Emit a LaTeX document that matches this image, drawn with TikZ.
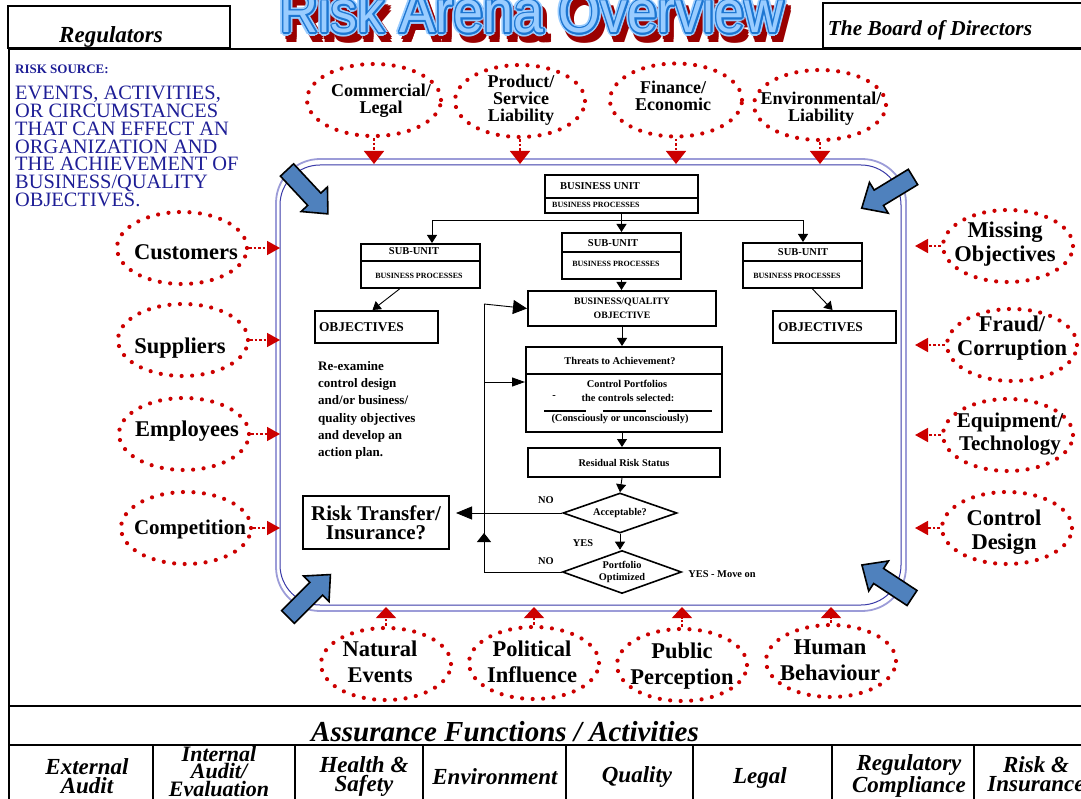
\documentclass[tikz,border=0pt]{standalone}
\usepackage{fontspec}
\usepackage{graphicx}
\setmainfont{Liberation Serif}
\newfontfamily\titlefont{Liberation Sans}
\usetikzlibrary{shapes.geometric,arrows.meta,positioning,calc}

\definecolor{riskred}{HTML}{CC0000}
\definecolor{srcnavy}{HTML}{1E1E96}
\definecolor{framenavy}{HTML}{3A3AA8}
\definecolor{framelav}{HTML}{9C9CD8}
\definecolor{bigarrow}{HTML}{4F81BD}
\definecolor{ttllight}{HTML}{99CCFF}
\definecolor{ttlblue}{HTML}{1C76D2}
\definecolor{ttlshadow}{HTML}{9A0000}

\newcommand{\fsz}[2]{\fontsize{#1}{#2}\selectfont}
\newcommand{\ttltext}{\titlefont\fsz{60}{60}\scalebox{0.9}[1]{Risk Arena Overview}}

\tikzset{
  ttl/.style={anchor=base, inner sep=0pt},
  hdrbox/.style={draw, line width=2pt, inner sep=0pt},
  hdrtext/.style={anchor=base, inner sep=0pt, font=\bfseries\itshape\fsz{23}{23}},
  srcdots/.style={ellipse, draw=riskred, line width=4.2pt, line cap=round,
    dash pattern=on 0pt off 10.5pt, inner sep=0pt,
    minimum width=130pt, minimum height=72pt},
  srcname/.style={align=center, inner sep=0pt, font=\bfseries\fsz{22.5}{24}},
  topname/.style={srcname, font=\bfseries\fsz{18}{17}},
  botname/.style={srcname, font=\bfseries\fsz{22.5}{26}},
  feed/.style={riskred, line width=1.6pt, dash pattern=on 2.5pt off 2pt},
  feeddown/.style={feed, -{Triangle[length=13pt,width=20pt]}},
  feedup/.style={feed, -{Triangle[length=11pt,width=20pt]}},
  feedside/.style={feed, -{Triangle[length=13pt,width=14pt]}},
  box/.style={draw, line width=2pt, inner sep=0pt},
  decision/.style={diamond, draw, line width=1.6pt, inner sep=0pt, shape aspect=2.8,
    align=center, font=\bfseries\fsz{10.3}{12}},
  smalltxt/.style={inner sep=0pt, font=\bfseries\fsz{10.4}{12}},
  weetxt/.style={inner sep=0pt, font=\bfseries\fsz{8}{9}},
  unittxt/.style={inner sep=0pt, font=\bfseries\fsz{10.5}{11}},
  flow/.style={line width=0.9pt},
  flowto/.style={flow, -{Triangle[length=8pt,width=10pt]}},
  flowbig/.style={flow, -{Triangle[length=14pt,width=14pt]}},
  colname/.style={align=center, inner sep=0pt, font=\bfseries\itshape\fsz{23}{19}},
  pics/inarrow/.style={code={
    \draw[fill=bigarrow, line width=1.6pt, line join=miter]
      (0,-9) -- (40,-9) -- (40,-18) -- (60,0) -- (40,18) -- (40,9) -- (0,9) -- cycle;}}
}

\begin{document}
\begin{tikzpicture}[x=1pt,y=-1pt]
\useasboundingbox (0,0) rectangle (1081,799);
\clip (0,0) rectangle (1081,799);

% title: shadow, halo, outline, fill
\foreach \a [count=\i] in {0,45,...,315}
  \node[ttl, text=ttlshadow] (shd\i) at ({537+3*cos(\a)},{40+3*sin(\a)}) {\ttltext};
\foreach \a [count=\i] in {0,30,...,330}
  \node[ttl, text=ttllight] (hal\i) at ({532+3.4*cos(\a)},{33+3.4*sin(\a)}) {\ttltext};
\foreach \a [count=\i] in {0,30,...,330}
  \node[ttl, text=ttlblue] (rim\i) at ({532+1.8*cos(\a)},{33+1.8*sin(\a)}) {\ttltext};
\node[ttl, text=ttllight] (title) at (532,33) {\ttltext};

% header boxes and page rules
\node[hdrbox, minimum width=222pt, minimum height=42pt] (regbox) at (119,27) {};
\node[hdrtext] (regtxt) at (111,43) {Regulators};
\node[hdrbox, minimum width=270pt, minimum height=45pt] (bodbox) at (958,25.5) {};
\node[hdrtext, font=\bfseries\itshape\fsz{21.3}{21}] (bodtxt) at (930,36) {The Board of Directors};
\draw[line width=2.4pt] (8,49) -- (1081,49);
\draw[line width=2pt] (9,48) -- (9,799);
\draw[line width=2.6pt] (9,706) -- (1081,706);
\draw[line width=2pt] (9,745) -- (1081,745);
\foreach \cx in {153,295,423,566,693,832,974}
  \draw[line width=1.8pt] (\cx,745) -- (\cx,799);

% risk source note
\node[anchor=base west, inner sep=0pt, text=srcnavy, font=\bfseries\fsz{13}{13}] (rsrc) at (15,74) {RISK SOURCE:};
\node[anchor=north west, inner sep=0pt, align=left, text=srcnavy, font=\fsz{20.4}{17.8}] (rsdesc) at (15,86)
  {EVENTS, ACTIVITIES,\\OR CIRCUMSTANCES\\THAT CAN EFFECT AN\\ORGANIZATION AND\\THE ACHIEVEMENT OF\\BUSINESS/QUALITY\\OBJECTIVES.};

% arena frame
\draw[framelav, line width=1.8pt, rounded corners=44pt] (276,159) rectangle (906,611);
\draw[framenavy, line width=1pt, rounded corners=40pt] (280,165) rectangle (901,605);
\coordinate (fT) at (0,164);
\coordinate (fB) at (0,607);
\coordinate (fL) at (280,0);
\coordinate (fR) at (915,0);

\pic[rotate=-47] at (287,170) {inarrow};
\pic[rotate=-148.7] at (913,177) {inarrow};
\pic[rotate=45] at (288,617) {inarrow};
\pic[rotate=146.6] at (912,598) {inarrow};

% risk sources, top
\node[srcdots, minimum width=134pt, minimum height=72pt] (commercial) at (374,100) {};
\node[topname] (commercial-t) at (381,101) {Commercial/\\Legal};
\node[srcdots, minimum width=130pt, minimum height=72pt] (product) at (520,101) {};
\node[topname] (product-t) at (521,100) {Product/\\Service\\Liability};
\node[srcdots, minimum width=132pt, minimum height=73pt] (finance) at (676,100) {};
\node[topname] (finance-t) at (673,96) {Finance/\\Economic};
\node[srcdots, minimum width=132pt, minimum height=70pt] (environ) at (820,105) {};
\node[topname] (environ-t) at (821,109) {Environmental/\\Liability};
\foreach \s in {commercial,product,finance,environ}
  \draw[feeddown] (\s.south) -- (\s.south |- fT);

% risk sources, left
\node[srcdots] (customers) at (182,248) {};
\node[srcname] (customers-t) at (186,252) {Customers};
\node[srcdots] (suppliers) at (183,340) {};
\node[srcname] (suppliers-t) at (180,348) {Suppliers};
\node[srcdots] (employees) at (184,434) {};
\node[srcname] (employees-t) at (187,431) {Employees};
\node[srcdots] (competition) at (186,528) {};
\node[srcname, font=\bfseries\fsz{21}{22}] (competition-t) at (190,529) {Competition};
\foreach \s in {customers,suppliers,employees,competition}
  \draw[feedside] (\s.east) -- (\s.east -| fL);

% risk sources, right
\node[srcdots] (missing) at (1008,246) {};
\node[srcname] (missing-t) at (1005,244) {Missing\\Objectives};
\node[srcdots] (fraud) at (1012,345) {};
\node[srcname] (fraud-t) at (1012,338) {Fraud/\\Corruption};
\node[srcdots] (equip) at (1008,435) {};
\node[srcname, font=\bfseries\fsz{21}{22.5}] (equip-t) at (1010,434) {Equipment/\\Technology};
\node[srcdots] (ctrldesign) at (1007,528) {};
\node[srcname] (ctrldesign-t) at (1004,532) {Control\\Design};
\foreach \s in {missing,fraud,equip,ctrldesign}
  \draw[feedside] (\s.west) -- (\s.west -| fR);

% risk sources, bottom
\node[srcdots] (natural) at (386,664) {};
\node[botname] (natural-t) at (380,662) {Natural\\Events};
\node[srcdots] (political) at (534,663) {};
\node[botname] (political-t) at (532,662) {Political\\Influence};
\node[srcdots] (public) at (682,665) {};
\node[botname] (public-t) at (682,666) {Public\\Perception};
\node[srcdots] (human) at (831,661) {};
\node[botname] (human-t) at (830,660) {Human\\Behaviour};
\foreach \s in {natural,political,public,human}
  \draw[feedup] (\s.north) -- (\s.north |- fB);

% business unit and sub-units
\node[box, minimum width=153pt, minimum height=38pt] (bu) at (621.5,194) {};
\draw[line width=2pt] ($(bu.north west)!0.6!(bu.south west)$) -- ($(bu.north east)!0.6!(bu.south east)$);
\node[unittxt, anchor=west] (bu-a) at (560,186) {BUSINESS UNIT};
\node[weetxt, anchor=west] (bu-b) at (552,205) {BUSINESS PROCESSES};

\node[box, minimum width=119pt, minimum height=44pt] (lsub) at (420.5,266) {};
\draw[line width=2pt] ($(lsub.north west)!0.39!(lsub.south west)$) -- ($(lsub.north east)!0.39!(lsub.south east)$);
\node[unittxt] (lsub-a) at (414,251) {SUB-UNIT};
\node[weetxt] (lsub-b) at (419,276) {BUSINESS PROCESSES};

\node[box, minimum width=119pt, minimum height=46pt] (msub) at (621.5,256) {};
\draw[line width=2pt] ($(msub.north west)!0.41!(msub.south west)$) -- ($(msub.north east)!0.41!(msub.south east)$);
\node[unittxt] (msub-a) at (613,243) {SUB-UNIT};
\node[weetxt] (msub-b) at (616,264) {BUSINESS PROCESSES};

\node[box, minimum width=119pt, minimum height=45pt] (rsub) at (802.5,265.5) {};
\draw[line width=2pt] ($(rsub.north west)!0.4!(rsub.south west)$) -- ($(rsub.north east)!0.4!(rsub.south east)$);
\node[unittxt] (rsub-a) at (803,252) {SUB-UNIT};
\node[weetxt] (rsub-b) at (797,276) {BUSINESS PROCESSES};

\coordinate (br) at (621.5,220);
\draw[flow] (bu.south) -- (br);
\draw[flowto] (br) -| ([xshift=11.5]lsub.north);
\draw[flowto] (br) -| ([xshift=0.5]rsub.north);
\draw[flowto] (br) -- (msub.north);

% objectives
\node[box, inner xsep=4pt, text width=115pt, minimum height=32pt, align=left, font=\bfseries\fsz{13.4}{14}] (lobj) at (376.5,327) {OBJECTIVES};
\node[box, inner xsep=5pt, text width=113pt, minimum height=32pt, align=left, font=\bfseries\fsz{13.4}{14}] (robj) at (834.5,327) {OBJECTIVES};
\draw[flowto] ([xshift=-21]lsub.south) -- ([xshift=-4]lobj.north);
\draw[flowto] ([xshift=10]rsub.south) -- ([xshift=-2]robj.north);

\node[anchor=north west, align=left, inner sep=0pt, font=\bfseries\fsz{13}{17.3}] (reexam) at (318,361)
  {Re-examine\\control design\\and/or business/\\quality objectives\\and develop an\\action plan.};

% main chain
\node[box, minimum width=188pt, minimum height=35pt, align=center, font=\bfseries\fsz{9.8}{14}] (bqo) at (622,308.5) {BUSINESS/QUALITY\\OBJECTIVE};
\node[box, minimum width=196pt, minimum height=85pt] (threats) at (624,389.5) {};
\draw[line width=2pt] ($(threats.north west)!0.318!(threats.south west)$) -- ($(threats.north east)!0.318!(threats.south east)$);
\node[smalltxt] (thr-q) at (620,361) {Threats to Achievement?};
\node[smalltxt] (thr-cp) at (627,384) {Control Portfolios};
\node[smalltxt] (thr-dash) at (554,397) {-};
\node[smalltxt] (thr-sel) at (628,398) {the controls selected:};
\foreach \xa/\xb in {544/586,603/646,668/712}
  \draw[line width=1.8pt] (\xa,411) -- (\xb,411);
\node[smalltxt] (thr-cons) at (620,419) {(Consciously or unconsciously)};
\node[box, minimum width=192pt, minimum height=29pt, font=\bfseries\fsz{10.3}{12}] (residual) at (624,462.5) {Residual Risk Status};
\node[decision, minimum width=114pt, minimum height=40pt] (accept) at (620,513) {Acceptable?};
\node[decision, minimum width=119pt, minimum height=43pt] (opt) at (622,572) {Portfolio\\Optimized};
\node[box, minimum width=146pt, minimum height=53pt, align=center, font=\bfseries\fsz{21}{19}] (rtransfer) at (376,522.5) {Risk Transfer/\\Insurance?};

\draw[flowto] (msub.south) -- (msub.south |- bqo.north);
\draw[flowto] (bqo.south) -- (bqo.south |- threats.north);
\draw[flowto] (bqo.south |- threats.south) -- (bqo.south |- residual.north);
\draw[flowto] (bqo.south |- residual.south) -- (accept.north);
\draw[flowto] (accept.south) -- (accept.south |- opt.north);
\draw[flow, -{Triangle[length=16pt,width=13pt]}, shorten >=6pt] (accept.west) -- (accept.west -| rtransfer.east);

\node[smalltxt] (no-a) at (546,500) {NO};
\node[smalltxt] (yes-a) at (583,543) {YES};
\node[smalltxt] (no-b) at (546,561) {NO};
\node[smalltxt] (moveon) at (722,574) {YES - Move on};

% loop back
\coordinate (loopb) at (484,572);
\coordinate (loopup) at (484,533);
\coordinate (loopm) at (484,382);
\coordinate (loopt) at (484,304);
\draw[flow] (opt.west) -- (loopb) -- (loopt);
\draw[flow, -{Triangle[length=9pt,width=14pt]}] (loopb) -- (loopup);
\draw[flowbig] (loopt) -- (bqo.west);
\draw[flow, -{Triangle[length=13pt,width=9pt]}] (loopm) -- (loopm -| threats.west);

% assurance functions
\node[inner sep=0pt, font=\bfseries\itshape\fsz{29}{29}] (assure) at (505,732) {Assurance Functions / Activities};
\node[colname] (c-ext) at (87,776) {External\\Audit};
\node[colname, font=\bfseries\itshape\fsz{22}{17.5}] (c-int) at (219,771) {Internal\\Audit/\\Evaluation};
\node[colname] (c-hs) at (364,776) {Health \&\\Safety};
\node[colname] (c-env) at (495,777) {Environment};
\node[colname] (c-qual) at (637,777) {Quality};
\node[colname] (c-legal) at (760,778) {Legal};
\node[colname] (c-reg) at (909,776) {Regulatory\\Compliance};
\node[colname] (c-risk) at (1036,774) {Risk \&\\Insurance};
\end{tikzpicture}
\end{document}
